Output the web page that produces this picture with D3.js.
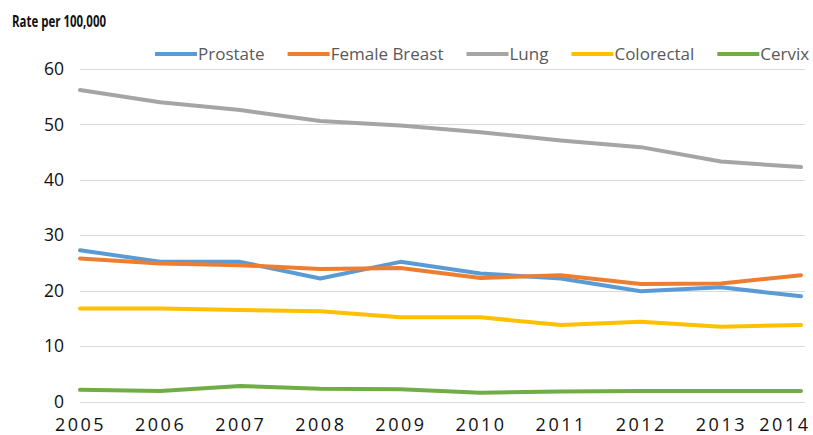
<!DOCTYPE html>
<html>
<head>
<meta charset="utf-8">
<script src="https://cdn.jsdelivr.net/npm/d3@7"></script>
<style>
  body { margin: 0; background: #fff; }
  svg { display: block; }
</style>
</head>
<body>
<div id="chart"></div>
<script>
const years = [2005, 2006, 2007, 2008, 2009, 2010, 2011, 2012, 2013, 2014];
const seriesNames = ["Prostate", "Female Breast", "Lung", "Colorectal", "Cervix"];
const prostate = [27.3, 25.2, 25.2, 22.2, 25.2, 23.1, 22.2, 19.9, 20.6, 19.0];
const femaleBreast = [25.8, 24.9, 24.6, 23.9, 24.1, 22.3, 22.8, 21.2, 21.3, 22.8];
const lung = [56.2, 54.0, 52.6, 50.6, 49.8, 48.6, 47.1, 45.9, 43.3, 42.3];
const colorectal = [16.8, 16.8, 16.5, 16.3, 15.2, 15.2, 13.8, 14.4, 13.5, 13.8];
const cervix = [2.1, 1.9, 2.8, 2.3, 2.2, 1.6, 1.8, 1.9, 1.9, 1.9];
const yTicks = [0, 10, 20, 30, 40, 50, 60];
const colors = ["#5B9BD5", "#ED7D31", "#A5A5A5", "#FFC000", "#70AD47"];

const seriesValues = [prostate, femaleBreast, lung, colorectal, cervix];
const series = seriesNames.map((name, i) => ({
  name: name,
  color: colors[i],
  values: years.map((y, j) => ({ year: y, value: seriesValues[i][j] })),
}));

const width = 813;
const height = 435;

const svg = d3
  .select("#chart")
  .append("svg")
  .attr("width", width)
  .attr("height", height);

const x = d3.scaleLinear().domain([2005, 2014]).range([80, 801]);
const y = d3.scaleLinear().domain([0, 60]).range([401.5, 69]);

// gridlines
svg
  .append("g")
  .selectAll("line")
  .data(yTicks)
  .enter()
  .append("line")
  .attr("x1", 80)
  .attr("x2", 805)
  .attr("y1", (d) => Math.round(y(d)) + 0.5)
  .attr("y2", (d) => Math.round(y(d)) + 0.5)
  .attr("stroke", "#d9d9d9")
  .attr("stroke-width", 1);

// y axis labels
const yAxis = d3.axisLeft(y).tickValues(yTicks).tickSize(0).tickPadding(0);
const yAxisG = svg.append("g").attr("transform", "translate(64,0)").call(yAxis);
yAxisG.select(".domain").remove();
yAxisG
  .selectAll("text")
  .attr("font-family", "'Open Sans', sans-serif")
  .attr("font-size", 17.5)
  .attr("fill", "#111");

// x axis labels
const xAxis = d3.axisBottom(x).tickValues(years).tickFormat(d3.format("d")).tickSize(0).tickPadding(0);
const xAxisG = svg.append("g").attr("transform", "translate(0,418)").call(xAxis);
xAxisG.select(".domain").remove();
xAxisG
  .selectAll("text")
  .attr("font-family", "'Open Sans', sans-serif")
  .attr("font-size", 18)
  .attr("letter-spacing", "2.5px")
  .attr("fill", "#111")
  .attr("dy", "0.73em");
// keep the last label inside the picture
xAxisG.selectAll(".tick").each(function (d) {
  const t = d3.select(this).select("text");
  const w = t.node().getComputedTextLength();
  if (x(d) + w / 2 > width - 3) t.attr("text-anchor", "end").attr("x", width - 3 - x(d));
});

// lines
const line = d3
  .line()
  .x((d) => x(d.year))
  .y((d) => y(d.value));

svg
  .append("g")
  .selectAll("path")
  .data(series)
  .enter()
  .append("path")
  .attr("d", (d) => line(d.values))
  .attr("fill", "none")
  .attr("stroke", (d) => d.color)
  .attr("stroke-width", 4)
  .attr("stroke-linejoin", "round")
  .attr("stroke-linecap", "round");

// title
svg
  .append("text")
  .attr("x", 12)
  .attr("y", 27)
  .attr("font-family", "'Open Sans', sans-serif")
  .attr("font-weight", "bold")
  .attr("font-size", 16)
  .attr("textLength", 94)
  .attr("lengthAdjust", "spacingAndGlyphs")
  .attr("fill", "#111")
  .text("Rate per 100,000");

// legend
const legend = svg.append("g").attr("transform", "translate(155,54)");
let lx = 0;
series.forEach((s) => {
  const g = legend.append("g").attr("transform", `translate(${lx},0)`);
  g.append("line")
    .attr("x1", 0)
    .attr("x2", 42)
    .attr("y1", 0)
    .attr("y2", 0)
    .attr("stroke", s.color)
    .attr("stroke-width", 4);
  const t = g
    .append("text")
    .attr("x", 43)
    .attr("y", 6)
    .attr("font-family", "'Open Sans', sans-serif")
    .attr("font-size", 17)
    .attr("fill", "#595959")
    .text(s.name);
  lx += 43 + t.node().getComputedTextLength() + 23;
});
</script>
</body>
</html>
